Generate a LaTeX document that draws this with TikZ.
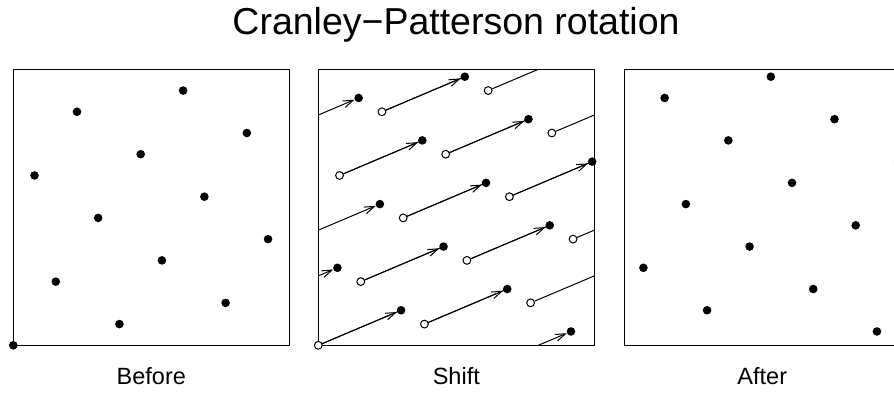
\documentclass[tikz,border=0pt]{standalone}
\usepackage{fontspec}
\setmainfont{Liberation Sans}
\usetikzlibrary{arrows.meta,calc}

\begin{document}
\begin{tikzpicture}[x=1pt, y=1pt,
	dot/.style={circle, fill, inner sep=0pt, minimum size=8.6pt},
	hollow/.style={circle, draw, fill=white, line width=1pt, inner sep=0pt, minimum size=7.8pt},
	wrapline/.style={line width=1pt},
	shiftarrow/.style={line width=1pt, -{Straight Barb[length=10pt, width=7pt]}, shorten <=3.8pt},
	frame/.style={draw, line width=1.1pt, minimum size=276pt, inner sep=0pt},
	caption/.style={anchor=base, font=\fontsize{23.5}{28}\selectfont}]
	\useasboundingbox (0,0) rectangle (894,392);
	\node[anchor=base, font=\fontsize{37.5}{45}\selectfont] (title) at (456,357.6) {Cranley−Patterson rotation};
	\foreach \name/\xo/\lab in {before/13.3/Before, shift/318.3/Shift, after/624.3/After} {
		\node[frame] (box-\name) at (\xo+138,184.7) {};
		\node[caption] (cap-\name) at (\xo+138,7.7) {\lab};
	}
	\begin{scope}[shift={(13.3,46.7)}, x=276pt, y=276pt]
		\foreach \i in {0,...,12} {
			\pgfmathsetmacro\px{mod(5*\i,13)/13}
			\node[dot] (b\i) at (\px,\i/13) {};
		}
	\end{scope}
	\begin{scope}[shift={(318.3,46.7)}, x=276pt, y=276pt]
		\foreach \i in {0,...,12} {
			\pgfmathsetmacro\px{mod(5*\i,13)/13}
			\pgfmathsetmacro\qx{mod(\px+0.3,1)}
			\pgfmathsetmacro\qy{mod(\i/13+0.127,1)}
			\node[hollow] (o\i) at (\px,\i/13) {};
			\node[dot] (s\i) at (\qx,\qy) {};
		}
		\clip (0,0) rectangle (1,1);
		\foreach \i in {0,...,12} {
			\draw[wrapline] (o\i) -- ++(0.3,0.127);
			\draw[shiftarrow] ($(s\i)-(0.3,0.127)$) -- (s\i);
		}
	\end{scope}
	\begin{scope}[shift={(624.3,46.7)}, x=276pt, y=276pt]
		\foreach \i in {0,...,12} {
			\pgfmathsetmacro\px{mod(5*\i,13)/13}
			\node[dot] (a\i) at ({mod(\px+0.3,1)},{mod(\i/13+0.127,1)}) {};
		}
	\end{scope}
\end{tikzpicture}
\end{document}
